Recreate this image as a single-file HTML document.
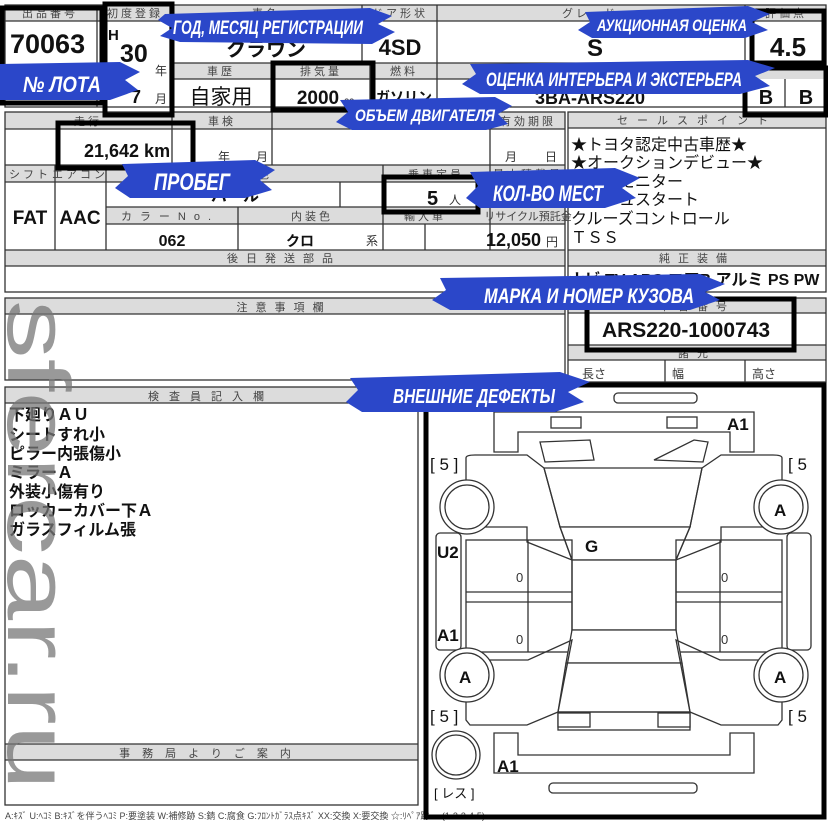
<!DOCTYPE html>
<html><head><meta charset="utf-8"><style>
html,body{margin:0;padding:0;background:#fff;}
svg{display:block;}
.j{font-family:"Liberation Sans","Noto Sans CJK JP",sans-serif;}
.h{font-size:11px;fill:#444;letter-spacing:3px;}
.b{font-weight:bold;fill:#111;}
.br{font-family:"Liberation Sans",sans-serif;font-weight:bold;font-style:italic;fill:#fff;}
</style></head><body>
<svg width="828" height="827" viewBox="0 0 828 827" xmlns="http://www.w3.org/2000/svg">
<g class="j" stroke="none">
<!-- ===== top table ===== -->
<g fill="#dcdcdc">
<rect x="5" y="5" width="821" height="16"/>
<rect x="170" y="63" width="656" height="16"/>
<rect x="5" y="112" width="560" height="17"/>
<rect x="5" y="165" width="560" height="17"/>
<rect x="106" y="207" width="459" height="17"/>
<rect x="5" y="250" width="560" height="16"/>
<rect x="568" y="112" width="258" height="16"/>
<rect x="568" y="250" width="258" height="16"/>
<rect x="568" y="298" width="258" height="15"/>
<rect x="568" y="345" width="258" height="15"/>
<rect x="5" y="298" width="560" height="16"/>
<rect x="5" y="387" width="413" height="16"/>
<rect x="5" y="744" width="413" height="16"/>
</g>
<g stroke="#333" stroke-width="1.3" fill="none">
<rect x="5" y="5" width="821" height="102"/>
<line x1="5" y1="21" x2="826" y2="21"/>
<line x1="170" y1="63" x2="826" y2="63"/>
<line x1="170" y1="79" x2="745" y2="79"/>
<line x1="97" y1="5" x2="97" y2="107"/>
<line x1="170" y1="5" x2="170" y2="107"/>
<line x1="362" y1="5" x2="362" y2="63"/>
<line x1="437" y1="5" x2="437" y2="107"/>
<line x1="745" y1="5" x2="745" y2="107"/>
<line x1="272" y1="63" x2="272" y2="107"/>
<line x1="370" y1="63" x2="370" y2="107"/>
<line x1="785" y1="79" x2="785" y2="107"/>
<!-- left middle table -->
<rect x="5" y="112" width="560" height="180"/>
<line x1="5" y1="129" x2="565" y2="129"/>
<line x1="5" y1="165" x2="565" y2="165"/>
<line x1="5" y1="182" x2="565" y2="182"/>
<line x1="106" y1="207" x2="565" y2="207"/>
<line x1="106" y1="224" x2="565" y2="224"/>
<line x1="5" y1="250" x2="565" y2="250"/>
<line x1="5" y1="266" x2="565" y2="266"/>
<line x1="172" y1="112" x2="172" y2="165"/>
<line x1="272" y1="112" x2="272" y2="165"/>
<line x1="490" y1="112" x2="490" y2="250"/>
<line x1="55" y1="165" x2="55" y2="250"/>
<line x1="106" y1="165" x2="106" y2="250"/>
<line x1="340" y1="182" x2="340" y2="207"/>
<line x1="383" y1="165" x2="383" y2="250"/>
<line x1="238" y1="207" x2="238" y2="250"/>
<line x1="425" y1="224" x2="425" y2="250"/>
<!-- right column -->
<rect x="568" y="112" width="258" height="180"/>
<line x1="568" y1="128" x2="826" y2="128"/>
<line x1="568" y1="250" x2="826" y2="250"/>
<line x1="568" y1="266" x2="826" y2="266"/>
<rect x="568" y="298" width="258" height="84"/>
<line x1="568" y1="313" x2="826" y2="313"/>
<line x1="568" y1="345" x2="826" y2="345"/>
<line x1="568" y1="360" x2="826" y2="360"/>
<line x1="665" y1="360" x2="665" y2="382"/>
<line x1="745" y1="360" x2="745" y2="382"/>
<!-- lower left -->
<rect x="5" y="298" width="560" height="82"/>
<line x1="5" y1="314" x2="565" y2="314"/>
<rect x="5" y="387" width="413" height="418"/>
<line x1="5" y1="403" x2="418" y2="403"/>
<line x1="5" y1="744" x2="418" y2="744"/>
<line x1="5" y1="760" x2="418" y2="760"/>
</g>

<!-- header texts -->
<g class="h" text-anchor="middle">
<text x="50" y="17">出品番号</text>
<text x="135" y="17">初度登録</text>
<text x="266" y="17">車名</text>
<text x="400" y="17">ドア形状</text>
<text x="590" y="17">グレード</text>
<text x="786" y="17">評価点</text>
<text x="221" y="75">車歴</text>
<text x="321" y="75">排気量</text>
<text x="404" y="75">燃料</text>
<text x="590" y="75">型式</text>
<text x="88" y="125">走行</text>
<text x="222" y="125">車検</text>
<text x="380" y="125">登録番号</text>
<text x="528" y="125">有効期限</text>
<text x="30" y="178">シフト</text>
<text x="80" y="178">エアコン</text>
<text x="265" y="178">色</text>
<text x="436" y="178">乗車定員</text>
<text x="528" y="178">最大積載量</text>
<text x="170" y="220" style="letter-spacing:8px">カラーNo.</text>
<text x="312" y="220">内装色</text>
<text x="425" y="220">輸入車</text>
<text x="528" y="220" style="letter-spacing:0">リサイクル預託金</text>
<text x="284" y="262" style="letter-spacing:8px">後日発送部品</text>
<text x="697" y="124" style="letter-spacing:9px">セールスポイント</text>
<text x="697" y="262" style="letter-spacing:8px">純正装備</text>
<text x="697" y="310" style="letter-spacing:8px">車台番号</text>
<text x="697" y="357" style="letter-spacing:8px">諸元</text>
<text x="284" y="311" style="letter-spacing:8px">注意事項欄</text>
<text x="211" y="400" style="letter-spacing:10px">検査員記入欄</text>
<text x="211" y="757" style="letter-spacing:12px">事務局よりご案内</text>
</g>
<g font-size="12" fill="#333">
<text x="582" y="378">長さ</text><text x="672" y="378">幅</text><text x="752" y="378">高さ</text>
<text x="155" y="75">年</text><text x="155" y="103">月</text>
<text x="218" y="161">年</text><text x="256" y="161">月</text>
<text x="505" y="161">月</text><text x="545" y="161">日</text>
<text x="449" y="204">人</text><text x="366" y="245">系</text>
<text x="546" y="246">円</text><text x="344" y="104" font-size="10">cc</text>
</g>

<!-- values -->
<g class="b">
<text x="10" y="53" font-size="27">70063</text>
<text x="108" y="40" font-size="15">H</text>
<text x="120" y="62" font-size="25">30</text>
<text x="131" y="103" font-size="18">7</text>
<text x="266" y="56" font-size="20" text-anchor="middle">クラウン</text>
<text x="400" y="55" font-size="22" text-anchor="middle">4SD</text>
<text x="595" y="56" font-size="24" text-anchor="middle">S</text>
<text x="788" y="56" font-size="26" text-anchor="middle">4.5</text>
<text x="221" y="104" font-size="21" text-anchor="middle" font-weight="normal">自家用</text>
<text x="318" y="104" font-size="19" text-anchor="middle">2000</text>
<text x="404" y="102" font-size="14" text-anchor="middle">ガソリン</text>
<text x="590" y="104" font-size="18" text-anchor="middle">3BA-ARS220</text>
<text x="766" y="104" font-size="20" text-anchor="middle">B</text>
<text x="806" y="104" font-size="20" text-anchor="middle">B</text>
<text x="84" y="157" font-size="18">21,642 km</text>
<text x="235" y="201" font-size="16" text-anchor="middle">パール</text>
<text x="427" y="205" font-size="20">5</text>
<text x="30" y="224" font-size="19" text-anchor="middle">FAT</text>
<text x="80" y="224" font-size="19" text-anchor="middle">AAC</text>
<text x="172" y="246" font-size="16" text-anchor="middle">062</text>
<text x="300" y="246" font-size="14" text-anchor="middle">クロ</text>
<text x="486" y="246" font-size="18">12,050</text>
<text x="686" y="337" font-size="21" text-anchor="middle">ARS220-1000743</text>
<text x="694" y="285" font-size="16" text-anchor="middle">ナビ TV ABS エアB アルミ PS PW</text>
</g>
<g font-size="16" fill="#111">
<text x="571" y="150">★トヨタ認定中古車歴★</text>
<text x="571" y="168">★オークションデビュー★</text>
<text x="571" y="187">バックモニター</text>
<text x="571" y="205">プッシュスタート</text>
<text x="571" y="224">クルーズコントロール</text>
<text x="571" y="243">ＴＳＳ</text>
</g>
<g font-size="16" fill="#111" font-weight="bold">
<text x="9" y="420">下廻りＡＵ</text>
<text x="9" y="440">シートすれ小</text>
<text x="9" y="459">ピラー内張傷小</text>
<text x="9" y="478">ミラーＡ</text>
<text x="9" y="497">外装小傷有り</text>
<text x="9" y="516">ロッカーカバー下Ａ</text>
<text x="9" y="535">ガラスフィルム張</text>
</g>
<text x="5" y="819" font-size="9" fill="#444">A:ｷｽﾞ U:ﾍｺﾐ B:ｷｽﾞを伴うﾍｺﾐ P:要塗装 W:補修跡 S:錆 C:腐食 G:ﾌﾛﾝﾄｶﾞﾗｽ点ｷｽﾞ XX:交換 X:要交換 ☆:ﾘﾍﾟｱ跡 ... (1-2-3-4-5)</text>

<!-- ===== car diagram ===== -->
<g stroke="#333" stroke-width="1.3" fill="#fff">
<rect x="614" y="393" width="83" height="10" rx="4"/>
<path d="M494 412 H754 V452 H730 V432 H518 V452 H494 Z" fill="none"/>
<rect x="551" y="417" width="30" height="11"/><rect x="667" y="417" width="30" height="11"/>
<path d="M540 442 L590 440 L594 460 L545 462 Z M694 440 L708 442 L703 462 L654 460 Z" fill="none"/>
<path d="M544 468 L702 468 L690 527 L560 527 Z"/>
<path d="M560 527 L690 527 L676 560 L572 560 Z"/>
<path d="M466 458 Q466 455 475 455 L527 455 L544 468 L560 527 L572 560 L527 542 V527 H466 Z" fill="none"/>
<path d="M782 458 Q782 455 773 455 L721 455 L702 468 L690 527 L676 560 L721 542 V527 H782 Z" fill="none"/>
<rect x="572" y="560" width="104" height="70"/>
<rect x="466" y="540" width="106" height="112" fill="none"/>
<rect x="676" y="540" width="106" height="112" fill="none"/>
<line x1="466" y1="592" x2="572" y2="592"/><line x1="466" y1="602" x2="572" y2="602"/>
<line x1="676" y1="592" x2="782" y2="592"/><line x1="676" y1="602" x2="782" y2="602"/>
<line x1="528" y1="540" x2="528" y2="652"/><line x1="720" y1="540" x2="720" y2="652"/>
<rect x="436" y="533" width="25" height="117" rx="4"/>
<rect x="787" y="533" width="24" height="117" rx="4"/>
<path d="M572 630 L676 630 L682 663 L566 663 Z"/>
<path d="M566 663 L682 663 L690 712 L558 712 Z"/>
<path d="M466 720 V660 L528 660 L572 640 L558 712 L527 725 L470 725 Z" fill="none"/>
<path d="M782 720 V660 L720 660 L676 640 L690 712 L721 725 L778 725 Z" fill="none"/>
<rect x="558" y="712" width="132" height="18" fill="none"/>
<rect x="558" y="713" width="32" height="14"/><rect x="658" y="713" width="32" height="14"/>
<path d="M494 733 H518 V755 H730 V733 H754 V773 H494 Z" fill="none"/>
<rect x="549" y="783" width="148" height="10" rx="4"/>
<circle cx="467" cy="507" r="27"/><circle cx="467" cy="507" r="22"/>
<circle cx="781" cy="507" r="27"/><circle cx="781" cy="507" r="22"/>
<circle cx="467" cy="675" r="27"/><circle cx="467" cy="675" r="22"/>
<circle cx="781" cy="675" r="27"/><circle cx="781" cy="675" r="22"/>
<circle cx="456" cy="755" r="24"/><circle cx="456" cy="755" r="20"/>
</g>
<g class="b" font-size="17">
<text x="727" y="430">A1</text>
<text x="430" y="470" font-weight="normal">[ 5 ]</text>
<text x="788" y="470" font-weight="normal">[ 5</text>
<text x="437" y="558">U2</text>
<text x="585" y="552">G</text>
<text x="437" y="641">A1</text>
<text x="459" y="683">A</text><text x="774" y="516">A</text><text x="774" y="683">A</text>
<text x="430" y="722" font-weight="normal">[ 5 ]</text>
<text x="788" y="722" font-weight="normal">[ 5</text>
<text x="497" y="772">A1</text>
<text x="434" y="798" font-size="13" font-weight="normal">[ レス ]</text>
</g>
<g font-size="13" fill="#333">
<text x="516" y="582">0</text><text x="516" y="644">0</text>
<text x="721" y="582">0</text><text x="721" y="644">0</text>
</g>

<!-- highlight boxes -->
<g stroke="#000" stroke-width="5" fill="none">
<rect x="2" y="8" width="100" height="95"/>
<rect x="105" y="4" width="67" height="111"/>
<rect x="273" y="63" width="100" height="47"/>
<rect x="58" y="123" width="135" height="45"/>
<rect x="384" y="177" width="94" height="35"/>
<rect x="752" y="11" width="72" height="52"/>
<rect x="745" y="68" width="81" height="47"/>
<rect x="587" y="299" width="207" height="51"/>
<rect x="426" y="385" width="398" height="432"/>
</g>

<!-- watermark -->
<text transform="translate(8,300) rotate(90)" font-family="Liberation Sans,sans-serif" font-size="88" fill="#777" fill-opacity="0.75" textLength="490" lengthAdjust="spacingAndGlyphs">sfercar.ru</text>

<!-- brush labels -->
<g fill="#2b47c9">
<path d="M165 14 L370 8 L392 16 L378 24 L395 32 L372 44 L180 42 L160 36 L172 28 L158 20 Z"/>
<path d="M0 64 L120 62 L140 72 L125 80 L138 90 L110 100 L0 100 Z"/>
<path d="M585 12 L748 6 L770 14 L752 22 L768 30 L745 38 L592 38 L578 30 L590 22 Z"/>
<path d="M470 64 L748 60 L775 68 L755 76 L770 86 L740 94 L480 94 L462 84 L476 74 Z"/>
<path d="M340 100 L495 97 L512 106 L498 114 L508 124 L486 130 L352 130 L336 122 L348 112 Z"/>
<path d="M122 164 L255 160 L275 170 L260 180 L272 190 L245 198 L130 198 L115 188 L128 176 Z"/>
<path d="M470 172 L615 168 L640 178 L622 188 L636 198 L605 208 L480 208 L466 198 L478 186 Z"/>
<path d="M440 278 L700 274 L725 284 L705 292 L720 300 L690 310 L450 310 L432 300 L446 290 Z"/>
<path d="M350 378 L560 372 L590 382 L568 392 L584 402 L555 412 L362 412 L346 402 L358 390 Z"/>
</g>
<g class="br" text-anchor="middle">
<text x="268" y="34" font-size="19" textLength="190" lengthAdjust="spacingAndGlyphs">ГОД, МЕСЯЦ РЕГИСТРАЦИИ</text>
<text x="62" y="92" font-size="22" textLength="78" lengthAdjust="spacingAndGlyphs">№ ЛОТА</text>
<text x="672" y="31" font-size="17" textLength="150" lengthAdjust="spacingAndGlyphs">АУКЦИОННАЯ ОЦЕНКА</text>
<text x="614" y="86" font-size="19" textLength="256" lengthAdjust="spacingAndGlyphs">ОЦЕНКА ИНТЕРЬЕРА И ЭКСТЕРЬЕРА</text>
<text x="425" y="121" font-size="17" textLength="140" lengthAdjust="spacingAndGlyphs">ОБЪЕМ ДВИГАТЕЛЯ</text>
<text x="192" y="190" font-size="24" textLength="76" lengthAdjust="spacingAndGlyphs">ПРОБЕГ</text>
<text x="548" y="201" font-size="22" textLength="110" lengthAdjust="spacingAndGlyphs">КОЛ-ВО МЕСТ</text>
<text x="589" y="303" font-size="21" textLength="210" lengthAdjust="spacingAndGlyphs">МАРКА И НОМЕР КУЗОВА</text>
<text x="474" y="403" font-size="20" textLength="162" lengthAdjust="spacingAndGlyphs">ВНЕШНИЕ ДЕФЕКТЫ</text>
</g>
</g>
</svg>
</body></html>
